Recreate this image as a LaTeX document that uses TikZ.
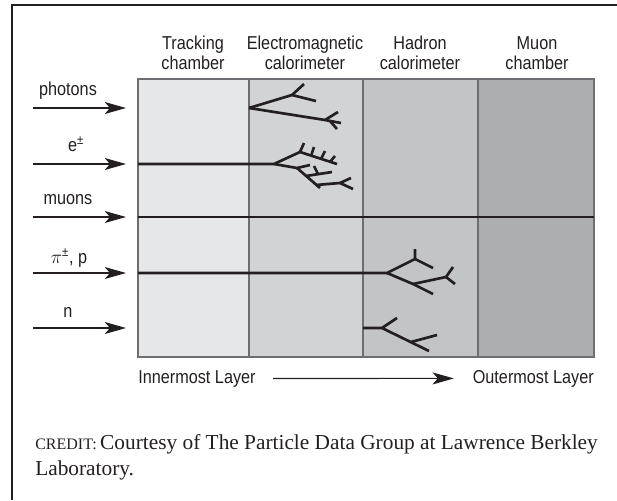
\documentclass[tikz,border=0pt]{standalone}
\usepackage{fontspec}
\setmainfont{Liberation Serif}
\newfontfamily\condsans[FakeStretch=0.87]{Liberation Sans}
\usetikzlibrary{arrows.meta,positioning}
\definecolor{colTrk}{HTML}{E6E7E8}
\definecolor{colEm}{HTML}{D1D3D4}
\definecolor{colHad}{HTML}{C3C4C6}
\definecolor{colMu}{HTML}{ADAEB0}
\definecolor{inkDark}{HTML}{231F20}
\definecolor{gridGray}{HTML}{6D6E71}

\begin{document}
\begin{tikzpicture}[x=0.75pt, y=-0.75pt,
  font=\condsans\fontsize{14}{15}\selectfont,
  hdr/.style={align=center, inner sep=0pt, anchor=base, text=inkDark},
  lbl/.style={inner sep=0pt, anchor=base, text=inkDark},
  inarr/.style={-{Stealth[length=16pt, width=9pt, inset=4pt]}, line width=0.8pt, inkDark},
  trk/.style={line width=2pt, inkDark, line join=round},
  layer/.style={draw=gridGray, line width=0.8pt}
]
\useasboundingbox (0,0) rectangle (617,500);
\draw[line width=1.8pt, inkDark] (12,500) -- (12,5) -- (617,5);

% detector layers
\fill[colTrk] (138,79) rectangle (249,357);
\fill[colEm]  (249,79) rectangle (363,357);
\fill[colHad] (363,79) rectangle (478,357);
\fill[colMu]  (478,79) rectangle (594,357);
\draw[layer] (138,79) rectangle (594,357);
\foreach \xc in {249,363,478} \draw[layer] (\xc,79) -- (\xc,357);

% base of a two-line node = baseline of its last line
\node[hdr] (hTrk) at (193,69) {Tracking\\chamber};
\node[hdr] (hEm)  at (305,69) {Electromagnetic\\calorimeter};
\node[hdr] (hHad) at (420,69) {Hadron\\calorimeter};
\node[hdr] (hMu)  at (537,69) {Muon\\chamber};

% incoming particles
\node[lbl] (lPhot) at (68,95)  {photons};
\node[lbl] (lElec) at (76,151) {e\textsuperscript{±}};
\node[lbl] (lMuon) at (68,204) {muons};
\node[lbl] (lPion) at (69,263) {$\pi$\textsuperscript{±}, p};
\node[lbl] (lNeut) at (68,317) {n};
\foreach \nm/\yc in {Phot/108,Elec/164,Muon/217,Pion/273,Neut/328}{
  \coordinate (s\nm) at (33,\yc);
  \coordinate (e\nm) at (126,\yc);
  \draw[inarr] (s\nm) -- (e\nm);
}

% photons
\draw[trk] (249,108) -- (292,95) -- (304,84);
\draw[trk] (292,95) -- (316,101);
\draw[trk] (249,108) -- (325,120) -- (338,112);
\draw[trk] (325,120) -- (341,123);
\draw[trk] (330,121) -- (337,129);
% e+-
\draw[trk] (138,164) -- (274,164) -- (300,152) -- (304,143);
\draw[trk] (300,152) -- (337,164);
\draw[trk] (311,156) -- (314,147);
\draw[trk] (321,159) -- (325,151);
\draw[trk] (330,162) -- (335,156);
\draw[trk] (274,164) -- (297,168) -- (310,165);
\draw[trk] (297,168) -- (320,188);
\draw[trk] (306,176) -- (332,172);
\draw[trk] (318,174) -- (314,166);
\draw[trk] (316,185) -- (340,183) -- (351,178);
\draw[trk] (340,183) -- (353,189);
% muons
\draw[trk] (138,217) -- (594,217);
% charged hadrons
\draw[trk] (138,273) -- (387,273) -- (415,259) -- (415,249);
\draw[trk] (415,259) -- (433,268);
\draw[trk] (387,273) -- (413,284) -- (433,294);
\draw[trk] (413,284) -- (446,277) -- (453,267);
\draw[trk] (446,277) -- (455,284);
% neutrons
\draw[trk] (363,328) -- (382,328) -- (397,318);
\draw[trk] (382,328) -- (429,351);
\draw[trk] (411,342) -- (437,335);

\node[lbl, anchor=base west] (inner) at (138,383) {Innermost Layer};
\node[lbl, anchor=base east] (outer) at (594,383) {Outermost Layer};
\draw[inarr] ([xshift=13pt]inner.east) -- ([xshift=-14pt]outer.west);

\node[anchor=base west, inner sep=0pt, align=left, text=inkDark,
  font=\rmfamily\fontsize{16}{19}\selectfont] (credit) at (35,475)
  {{\fontsize{12}{12}\selectfont CREDIT:}\,Courtesy of The Particle Data Group at Lawrence Berkley\\Laboratory.};
\end{tikzpicture}
\end{document}
